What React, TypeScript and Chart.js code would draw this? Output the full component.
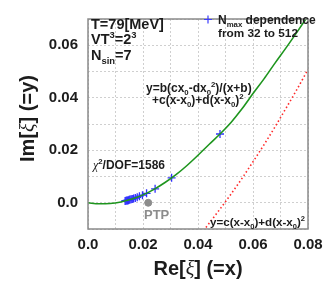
import React, { useEffect, useRef } from "react";
import { Chart, registerables } from "chart.js";

Chart.register(...registerables);

// Fit curve y=b(cx0-dx0^2)/(x+b)+c(x-x0)+d(x-x0)^2 (green)
const fitX = [0.0, 0.004, 0.008, 0.012, 0.016, 0.02, 0.024, 0.028, 0.032, 0.036, 0.04, 0.044, 0.048, 0.052, 0.056, 0.06, 0.064, 0.068, 0.072, 0.076, 0.08];
const fitY = [0.0, -0.0004, -0.0003, 0.0003, 0.0014, 0.003, 0.0051, 0.0077, 0.0107, 0.0142, 0.0181, 0.0222, 0.0262, 0.0306, 0.0358, 0.0416, 0.0472, 0.0532, 0.059, 0.065, 0.0712];

// Curve y=c(x-x0)+d(x-x0)^2 (red dotted)
const quadX = [0.042, 0.044, 0.048, 0.052, 0.056, 0.06, 0.064, 0.068, 0.072, 0.076, 0.08];
const quadY = [-0.0106, -0.0079, -0.0024, 0.0033, 0.0093, 0.0156, 0.0221, 0.0289, 0.036, 0.0432, 0.0508];

// N_max dependence points
const nmaxX = [0.0135, 0.0138, 0.0141, 0.0144, 0.0147, 0.015, 0.0153, 0.0157, 0.0161, 0.0166, 0.0172, 0.0179, 0.0187, 0.0198, 0.0213, 0.0244, 0.0304, 0.048];
const nmaxY = [0.0007, 0.0008, 0.0009, 0.0009, 0.001, 0.0011, 0.0012, 0.0013, 0.0014, 0.0016, 0.0018, 0.0021, 0.0025, 0.0029, 0.0036, 0.0053, 0.0095, 0.0262];

// PTP point
const ptpX = [0.0219];
const ptpY = [0.0];

const xTicks = [0, 0.01, 0.02, 0.03, 0.04, 0.05, 0.06, 0.07, 0.08];
const yTicks = [-0.01, 0, 0.01, 0.02, 0.03, 0.04, 0.05, 0.06, 0.07];

const FONT = "'Liberation Sans', Arial, sans-serif";
const TXT = "#1c1c1c";

type Seg = { t: string; m?: "n" | "sub" | "sup"; f?: string };

function drawRich(ctx: CanvasRenderingContext2D, segs: Seg[], x: number, y: number, size: number, align: "left" | "center" = "left", color = TXT) {
  const fontFor = (s: Seg) => {
    const sz = s.m === "sub" || s.m === "sup" ? size * 0.65 : size;
    return s.f ? s.f.replace("SZ", sz + "px") : `bold ${sz}px ${FONT}`;
  };
  let w = 0;
  for (const s of segs) {
    ctx.font = fontFor(s);
    w += ctx.measureText(s.t).width;
  }
  let cx = align === "center" ? x - w / 2 : x;
  ctx.fillStyle = color;
  ctx.textBaseline = "alphabetic";
  ctx.textAlign = "left";
  for (const s of segs) {
    ctx.font = fontFor(s);
    const dy = s.m === "sup" ? -size * 0.42 : s.m === "sub" ? size * 0.28 : 0;
    ctx.fillText(s.t, cx, y + dy);
    cx += ctx.measureText(s.t).width;
  }
}

const overlay = {
  id: "overlay",
  afterDraw(chart: any) {
    const ctx: CanvasRenderingContext2D = chart.ctx;
    const a = chart.chartArea;
    ctx.save();
    // frame
    ctx.strokeStyle = "#8a8a8a";
    ctx.lineWidth = 1.5;
    ctx.strokeRect(a.left, a.top, a.right - a.left, a.bottom - a.top);

    // info text
    drawRich(ctx, [{ t: "T=79[MeV]" }], 91, 29, 14.5);
    drawRich(ctx, [{ t: "VT" }, { t: "3", m: "sup" }, { t: "=2" }, { t: "3", m: "sup" }], 91, 44, 14.5);
    drawRich(ctx, [{ t: "N" }, { t: "sin", m: "sub" }, { t: "=7" }], 91, 60, 14.5);

    // legend
    ctx.strokeStyle = "#3c3cff";
    ctx.lineWidth = 1.2;
    ctx.beginPath();
    ctx.moveTo(204, 19.5); ctx.lineTo(212, 19.5);
    ctx.moveTo(208, 15.5); ctx.lineTo(208, 23.5);
    ctx.stroke();
    drawRich(ctx, [{ t: "N" }, { t: "max", m: "sub" }, { t: " dependence" }], 218, 24, 12);
    drawRich(ctx, [{ t: "from 32 to 512" }], 218, 37, 11.8);

    // equations
    drawRich(ctx, [{ t: "y=b(cx" }, { t: "0", m: "sub" }, { t: "-dx" }, { t: "0", m: "sub" }, { t: "2", m: "sup" }, { t: ")/(x+b)" }], 146, 92, 12);
    drawRich(ctx, [{ t: "+c(x-x" }, { t: "0", m: "sub" }, { t: ")+d(x-x" }, { t: "0", m: "sub" }, { t: ")" }, { t: "2", m: "sup" }], 152, 104, 12);
    drawRich(ctx, [{ t: "χ", f: "italic SZ 'Liberation Serif', serif" }, { t: "2", m: "sup" }, { t: "/DOF=1586" }], 93, 169, 12);
    drawRich(ctx, [{ t: "y=c(x-x" }, { t: "0", m: "sub" }, { t: ")+d(x-x" }, { t: "0", m: "sub" }, { t: ")" }, { t: "2", m: "sup" }], 210, 226, 11.6);

    // PTP label
    drawRich(ctx, [{ t: "PTP" }], 144, 219, 13, "left", "#8c8c8c");

    // axis titles
    const title = (lead: string, tail: string): Seg[] => [
      { t: lead },
      { t: "ξ", f: "italic SZ 'Liberation Serif', serif" },
      { t: tail },
    ];
    drawRich(ctx, title("Re[", "] (=x)"), 198, 275, 20, "center");
    ctx.translate(34, 118.5);
    ctx.rotate(-Math.PI / 2);
    drawRich(ctx, title("Im[", "] (=y)"), 0, 0, 20, "center");
    ctx.restore();
  },
};

function fmt(v: number): string {
  const k = Math.round(v * 100);
  if (k % 2 !== 0 || k < 0) return "";
  if (k === 0) return "0.0";
  return (k / 100).toFixed(2);
}

export default function App() {
  const ref = useRef<HTMLCanvasElement>(null);
  useEffect(() => {
    if (!ref.current) return;
    const pts = (xs: number[], ys: number[]) => xs.map((x, i) => ({ x, y: ys[i] }));
    const chart = new Chart(ref.current, {
      type: "scatter",
      data: {
        datasets: [
          {
            label: "fit",
            data: pts(fitX, fitY),
            showLine: true,
            borderColor: "#1e951e",
            borderWidth: 1.6,
            pointRadius: 0,
            cubicInterpolationMode: "monotone",
          },
          {
            label: "quad",
            data: pts(quadX, quadY),
            showLine: true,
            borderColor: "#ff2a2a",
            borderWidth: 1.6,
            borderDash: [1.5, 2.5],
            pointRadius: 0,
            cubicInterpolationMode: "monotone",
          },
          {
            label: "nmax",
            data: pts(nmaxX, nmaxY),
            showLine: false,
            pointStyle: "cross",
            pointRadius: 4,
            borderColor: "#3030ff",
            borderWidth: 1.3,
          },
          {
            label: "PTP",
            data: pts(ptpX, ptpY),
            showLine: false,
            pointRadius: 3.5,
            backgroundColor: "#8c8c8c",
            borderColor: "#8c8c8c",
          },
        ],
      } as any,
      options: {
        animation: false,
        responsive: false,
        events: [],
        layout: { padding: { top: 8, right: 28, left: 0, bottom: 0 } },
        plugins: { legend: { display: false }, tooltip: { enabled: false } },
        scales: {
          x: {
            type: "linear",
            min: 0,
            max: 0.08,
            afterBuildTicks: (s: any) => { s.ticks = xTicks.map((v) => ({ value: v })); },
            afterFit: (s: any) => { s.height = 60; },
            ticks: {
              callback: (v: any) => fmt(Number(v)),
              font: { family: FONT, size: 15, weight: "bold" },
              color: TXT,
              padding: 7,
              maxRotation: 0,
              autoSkip: false,
            },
            grid: { color: "#cfcfcf", lineWidth: 1, drawTicks: false },
            border: { display: false, dash: [2, 2] },
          },
          y: {
            type: "linear",
            min: -0.01,
            max: 0.07,
            afterBuildTicks: (s: any) => { s.ticks = yTicks.map((v) => ({ value: v })); },
            afterFit: (s: any) => { s.width = 88; },
            ticks: {
              callback: (v: any) => fmt(Number(v)),
              font: { family: FONT, size: 15, weight: "bold" },
              color: TXT,
              padding: 10,
              autoSkip: false,
            },
            grid: { color: "#cfcfcf", lineWidth: 1, drawTicks: false },
            border: { display: false, dash: [2, 2] },
          },
        },
      } as any,
      plugins: [overlay],
    });
    return () => chart.destroy();
  }, []);
  return (
    <div style={{ position: "fixed", left: 0, top: 0, width: 336, height: 289, background: "#fff" }}>
      <canvas ref={ref} width={336} height={289} style={{ display: "block" }} />
    </div>
  );
}
